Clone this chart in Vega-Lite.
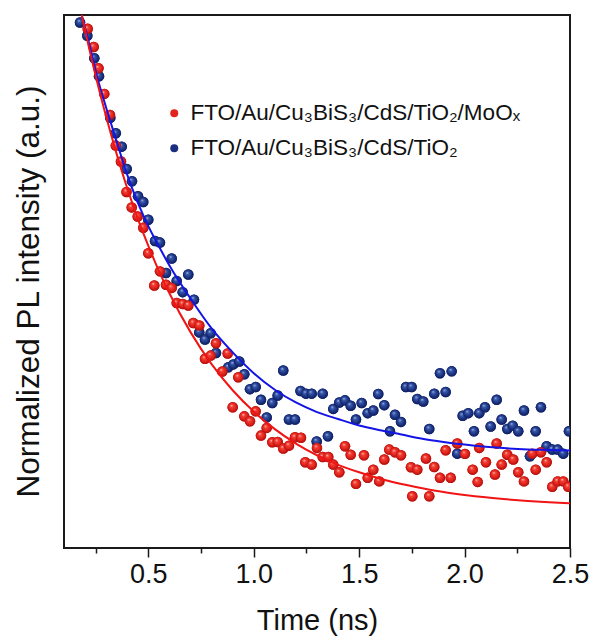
{
  "$schema": "https://vega.github.io/schema/vega-lite/v6.json",
  "width": 506,
  "height": 533,
  "autosize": {"type": "none"},
  "padding": {"left": 64, "top": 15, "right": 25, "bottom": 91},
  "background": "white",
  "config": {"view": {"stroke": "#1a1a1a", "strokeWidth": 2}, "font": "Liberation Sans"},
  "datasets": {
    "pts": [
      {"t":0.176,"I":0.986,"s":"FTO/Au/Cu₃BiS₃/CdS/TiO₂"},
      {"t":0.2105,"I":0.961,"s":"FTO/Au/Cu₃BiS₃/CdS/TiO₂"},
      {"t":0.2437,"I":0.919,"s":"FTO/Au/Cu₃BiS₃/CdS/TiO₂"},
      {"t":0.266,"I":0.885,"s":"FTO/Au/Cu₃BiS₃/CdS/TiO₂"},
      {"t":0.3196,"I":0.807,"s":"FTO/Au/Cu₃BiS₃/CdS/TiO₂"},
      {"t":0.3457,"I":0.778,"s":"FTO/Au/Cu₃BiS₃/CdS/TiO₂"},
      {"t":0.3737,"I":0.753,"s":"FTO/Au/Cu₃BiS₃/CdS/TiO₂"},
      {"t":0.3974,"I":0.711,"s":"FTO/Au/Cu₃BiS₃/CdS/TiO₂"},
      {"t":0.4225,"I":0.688,"s":"FTO/Au/Cu₃BiS₃/CdS/TiO₂"},
      {"t":0.451,"I":0.660,"s":"FTO/Au/Cu₃BiS₃/CdS/TiO₂"},
      {"t":0.476,"I":0.649,"s":"FTO/Au/Cu₃BiS₃/CdS/TiO₂"},
      {"t":0.4998,"I":0.616,"s":"FTO/Au/Cu₃BiS₃/CdS/TiO₂"},
      {"t":0.5316,"I":0.576,"s":"FTO/Au/Cu₃BiS₃/CdS/TiO₂"},
      {"t":0.5553,"I":0.573,"s":"FTO/Au/Cu₃BiS₃/CdS/TiO₂"},
      {"t":0.5838,"I":0.516,"s":"FTO/Au/Cu₃BiS₃/CdS/TiO₂"},
      {"t":0.6108,"I":0.543,"s":"FTO/Au/Cu₃BiS₃/CdS/TiO₂"},
      {"t":0.6345,"I":0.501,"s":"FTO/Au/Cu₃BiS₃/CdS/TiO₂"},
      {"t":0.663,"I":0.480,"s":"FTO/Au/Cu₃BiS₃/CdS/TiO₂"},
      {"t":0.6895,"I":0.513,"s":"FTO/Au/Cu₃BiS₃/CdS/TiO₂"},
      {"t":0.7166,"I":0.466,"s":"FTO/Au/Cu₃BiS₃/CdS/TiO₂"},
      {"t":0.7417,"I":0.4045,"s":"FTO/Au/Cu₃BiS₃/CdS/TiO₂"},
      {"t":0.7687,"I":0.391,"s":"FTO/Au/Cu₃BiS₃/CdS/TiO₂"},
      {"t":0.7958,"I":0.403,"s":"FTO/Au/Cu₃BiS₃/CdS/TiO₂"},
      {"t":0.8209,"I":0.366,"s":"FTO/Au/Cu₃BiS₃/CdS/TiO₂"},
      {"t":0.8792,"I":0.339,"s":"FTO/Au/Cu₃BiS₃/CdS/TiO₂"},
      {"t":0.903,"I":0.3445,"s":"FTO/Au/Cu₃BiS₃/CdS/TiO₂"},
      {"t":0.9314,"I":0.350,"s":"FTO/Au/Cu₃BiS₃/CdS/TiO₂"},
      {"t":0.9551,"I":0.326,"s":"FTO/Au/Cu₃BiS₃/CdS/TiO₂"},
      {"t":0.9821,"I":0.298,"s":"FTO/Au/Cu₃BiS₃/CdS/TiO₂"},
      {"t":1.0092,"I":0.302,"s":"FTO/Au/Cu₃BiS₃/CdS/TiO₂"},
      {"t":1.0343,"I":0.278,"s":"FTO/Au/Cu₃BiS₃/CdS/TiO₂"},
      {"t":1.0613,"I":0.245,"s":"FTO/Au/Cu₃BiS₃/CdS/TiO₂"},
      {"t":1.0879,"I":0.272,"s":"FTO/Au/Cu₃BiS₃/CdS/TiO₂"},
      {"t":1.1135,"I":0.286,"s":"FTO/Au/Cu₃BiS₃/CdS/TiO₂"},
      {"t":1.14,"I":0.333,"s":"FTO/Au/Cu₃BiS₃/CdS/TiO₂"},
      {"t":1.1671,"I":0.241,"s":"FTO/Au/Cu₃BiS₃/CdS/TiO₂"},
      {"t":1.1956,"I":0.241,"s":"FTO/Au/Cu₃BiS₃/CdS/TiO₂"},
      {"t":1.2216,"I":0.2947,"s":"FTO/Au/Cu₃BiS₃/CdS/TiO₂"},
      {"t":1.2477,"I":0.2896,"s":"FTO/Au/Cu₃BiS₃/CdS/TiO₂"},
      {"t":1.2748,"I":0.2896,"s":"FTO/Au/Cu₃BiS₃/CdS/TiO₂"},
      {"t":1.2985,"I":0.200,"s":"FTO/Au/Cu₃BiS₃/CdS/TiO₂"},
      {"t":1.327,"I":0.2896,"s":"FTO/Au/Cu₃BiS₃/CdS/TiO₂"},
      {"t":1.352,"I":0.2096,"s":"FTO/Au/Cu₃BiS₃/CdS/TiO₂"},
      {"t":1.3772,"I":0.261,"s":"FTO/Au/Cu₃BiS₃/CdS/TiO₂"},
      {"t":1.4057,"I":0.273,"s":"FTO/Au/Cu₃BiS₃/CdS/TiO₂"},
      {"t":1.4327,"I":0.277,"s":"FTO/Au/Cu₃BiS₃/CdS/TiO₂"},
      {"t":1.4597,"I":0.267,"s":"FTO/Au/Cu₃BiS₃/CdS/TiO₂"},
      {"t":1.4849,"I":0.241,"s":"FTO/Au/Cu₃BiS₃/CdS/TiO₂"},
      {"t":1.5119,"I":0.272,"s":"FTO/Au/Cu₃BiS₃/CdS/TiO₂"},
      {"t":1.5404,"I":0.253,"s":"FTO/Au/Cu₃BiS₃/CdS/TiO₂"},
      {"t":1.5669,"I":0.258,"s":"FTO/Au/Cu₃BiS₃/CdS/TiO₂"},
      {"t":1.5906,"I":0.289,"s":"FTO/Au/Cu₃BiS₃/CdS/TiO₂"},
      {"t":1.6191,"I":0.268,"s":"FTO/Au/Cu₃BiS₃/CdS/TiO₂"},
      {"t":1.6461,"I":0.219,"s":"FTO/Au/Cu₃BiS₃/CdS/TiO₂"},
      {"t":1.6698,"I":0.250,"s":"FTO/Au/Cu₃BiS₃/CdS/TiO₂"},
      {"t":1.6983,"I":0.2366,"s":"FTO/Au/Cu₃BiS₃/CdS/TiO₂"},
      {"t":1.722,"I":0.302,"s":"FTO/Au/Cu₃BiS₃/CdS/TiO₂"},
      {"t":1.749,"I":0.302,"s":"FTO/Au/Cu₃BiS₃/CdS/TiO₂"},
      {"t":1.7756,"I":0.2797,"s":"FTO/Au/Cu₃BiS₃/CdS/TiO₂"},
      {"t":1.804,"I":0.275,"s":"FTO/Au/Cu₃BiS₃/CdS/TiO₂"},
      {"t":1.8325,"I":0.2234,"s":"FTO/Au/Cu₃BiS₃/CdS/TiO₂"},
      {"t":1.8562,"I":0.2896,"s":"FTO/Au/Cu₃BiS₃/CdS/TiO₂"},
      {"t":1.8833,"I":0.328,"s":"FTO/Au/Cu₃BiS₃/CdS/TiO₂"},
      {"t":1.9103,"I":0.2928,"s":"FTO/Au/Cu₃BiS₃/CdS/TiO₂"},
      {"t":1.9388,"I":0.3314,"s":"FTO/Au/Cu₃BiS₃/CdS/TiO₂"},
      {"t":1.9653,"I":0.177,"s":"FTO/Au/Cu₃BiS₃/CdS/TiO₂"},
      {"t":1.9909,"I":0.248,"s":"FTO/Au/Cu₃BiS₃/CdS/TiO₂"},
      {"t":2.0175,"I":0.253,"s":"FTO/Au/Cu₃BiS₃/CdS/TiO₂"},
      {"t":2.0445,"I":0.219,"s":"FTO/Au/Cu₃BiS₃/CdS/TiO₂"},
      {"t":2.0696,"I":0.253,"s":"FTO/Au/Cu₃BiS₃/CdS/TiO₂"},
      {"t":2.0967,"I":0.264,"s":"FTO/Au/Cu₃BiS₃/CdS/TiO₂"},
      {"t":2.1237,"I":0.228,"s":"FTO/Au/Cu₃BiS₃/CdS/TiO₂"},
      {"t":2.1522,"I":0.278,"s":"FTO/Au/Cu₃BiS₃/CdS/TiO₂"},
      {"t":2.1759,"I":0.241,"s":"FTO/Au/Cu₃BiS₃/CdS/TiO₂"},
      {"t":2.2025,"I":0.2234,"s":"FTO/Au/Cu₃BiS₃/CdS/TiO₂"},
      {"t":2.2281,"I":0.2296,"s":"FTO/Au/Cu₃BiS₃/CdS/TiO₂"},
      {"t":2.2546,"I":0.219,"s":"FTO/Au/Cu₃BiS₃/CdS/TiO₂"},
      {"t":2.2817,"I":0.258,"s":"FTO/Au/Cu₃BiS₃/CdS/TiO₂"},
      {"t":2.3101,"I":0.172,"s":"FTO/Au/Cu₃BiS₃/CdS/TiO₂"},
      {"t":2.3372,"I":0.219,"s":"FTO/Au/Cu₃BiS₃/CdS/TiO₂"},
      {"t":2.3623,"I":0.264,"s":"FTO/Au/Cu₃BiS₃/CdS/TiO₂"},
      {"t":2.3893,"I":0.191,"s":"FTO/Au/Cu₃BiS₃/CdS/TiO₂"},
      {"t":2.4159,"I":0.1846,"s":"FTO/Au/Cu₃BiS₃/CdS/TiO₂"},
      {"t":2.4415,"I":0.1846,"s":"FTO/Au/Cu₃BiS₃/CdS/TiO₂"},
      {"t":2.4681,"I":0.177,"s":"FTO/Au/Cu₃BiS₃/CdS/TiO₂"},
      {"t":2.495,"I":0.219,"s":"FTO/Au/Cu₃BiS₃/CdS/TiO₂"},
      {"t":0.2124,"I":0.974,"s":"FTO/Au/Cu₃BiS₃/CdS/TiO₂/MoOₓ"},
      {"t":0.2409,"I":0.940,"s":"FTO/Au/Cu₃BiS₃/CdS/TiO₂/MoOₓ"},
      {"t":0.2636,"I":0.900,"s":"FTO/Au/Cu₃BiS₃/CdS/TiO₂/MoOₓ"},
      {"t":0.2911,"I":0.852,"s":"FTO/Au/Cu₃BiS₃/CdS/TiO₂/MoOₓ"},
      {"t":0.3182,"I":0.8126,"s":"FTO/Au/Cu₃BiS₃/CdS/TiO₂/MoOₓ"},
      {"t":0.3457,"I":0.755,"s":"FTO/Au/Cu₃BiS₃/CdS/TiO₂/MoOₓ"},
      {"t":0.3703,"I":0.725,"s":"FTO/Au/Cu₃BiS₃/CdS/TiO₂/MoOₓ"},
      {"t":0.3964,"I":0.668,"s":"FTO/Au/Cu₃BiS₃/CdS/TiO₂/MoOₓ"},
      {"t":0.4211,"I":0.639,"s":"FTO/Au/Cu₃BiS₃/CdS/TiO₂/MoOₓ"},
      {"t":0.4495,"I":0.622,"s":"FTO/Au/Cu₃BiS₃/CdS/TiO₂/MoOₓ"},
      {"t":0.4761,"I":0.601,"s":"FTO/Au/Cu₃BiS₃/CdS/TiO₂/MoOₓ"},
      {"t":0.4998,"I":0.553,"s":"FTO/Au/Cu₃BiS₃/CdS/TiO₂/MoOₓ"},
      {"t":0.5283,"I":0.4926,"s":"FTO/Au/Cu₃BiS₃/CdS/TiO₂/MoOₓ"},
      {"t":0.5553,"I":0.519,"s":"FTO/Au/Cu₃BiS₃/CdS/TiO₂/MoOₓ"},
      {"t":0.5838,"I":0.494,"s":"FTO/Au/Cu₃BiS₃/CdS/TiO₂/MoOₓ"},
      {"t":0.6108,"I":0.488,"s":"FTO/Au/Cu₃BiS₃/CdS/TiO₂/MoOₓ"},
      {"t":0.6345,"I":0.4596,"s":"FTO/Au/Cu₃BiS₃/CdS/TiO₂/MoOₓ"},
      {"t":0.663,"I":0.4577,"s":"FTO/Au/Cu₃BiS₃/CdS/TiO₂/MoOₓ"},
      {"t":0.6895,"I":0.455,"s":"FTO/Au/Cu₃BiS₃/CdS/TiO₂/MoOₓ"},
      {"t":0.7132,"I":0.422,"s":"FTO/Au/Cu₃BiS₃/CdS/TiO₂/MoOₓ"},
      {"t":0.7417,"I":0.4176,"s":"FTO/Au/Cu₃BiS₃/CdS/TiO₂/MoOₓ"},
      {"t":0.7687,"I":0.355,"s":"FTO/Au/Cu₃BiS₃/CdS/TiO₂/MoOₓ"},
      {"t":0.7958,"I":0.361,"s":"FTO/Au/Cu₃BiS₃/CdS/TiO₂/MoOₓ"},
      {"t":0.8209,"I":0.384,"s":"FTO/Au/Cu₃BiS₃/CdS/TiO₂/MoOₓ"},
      {"t":0.8508,"I":0.331,"s":"FTO/Au/Cu₃BiS₃/CdS/TiO₂/MoOₓ"},
      {"t":0.8764,"I":0.365,"s":"FTO/Au/Cu₃BiS₃/CdS/TiO₂/MoOₓ"},
      {"t":0.9001,"I":0.264,"s":"FTO/Au/Cu₃BiS₃/CdS/TiO₂/MoOₓ"},
      {"t":0.9267,"I":0.3205,"s":"FTO/Au/Cu₃BiS₃/CdS/TiO₂/MoOₓ"},
      {"t":0.9551,"I":0.247,"s":"FTO/Au/Cu₃BiS₃/CdS/TiO₂/MoOₓ"},
      {"t":0.9821,"I":0.2377,"s":"FTO/Au/Cu₃BiS₃/CdS/TiO₂/MoOₓ"},
      {"t":1.0092,"I":0.2564,"s":"FTO/Au/Cu₃BiS₃/CdS/TiO₂/MoOₓ"},
      {"t":1.0343,"I":0.2109,"s":"FTO/Au/Cu₃BiS₃/CdS/TiO₂/MoOₓ"},
      {"t":1.0613,"I":0.2253,"s":"FTO/Au/Cu₃BiS₃/CdS/TiO₂/MoOₓ"},
      {"t":1.0879,"I":0.1983,"s":"FTO/Au/Cu₃BiS₃/CdS/TiO₂/MoOₓ"},
      {"t":1.1135,"I":0.199,"s":"FTO/Au/Cu₃BiS₃/CdS/TiO₂/MoOₓ"},
      {"t":1.14,"I":0.1865,"s":"FTO/Au/Cu₃BiS₃/CdS/TiO₂/MoOₓ"},
      {"t":1.1671,"I":0.192,"s":"FTO/Au/Cu₃BiS₃/CdS/TiO₂/MoOₓ"},
      {"t":1.1956,"I":0.2077,"s":"FTO/Au/Cu₃BiS₃/CdS/TiO₂/MoOₓ"},
      {"t":1.2241,"I":0.207,"s":"FTO/Au/Cu₃BiS₃/CdS/TiO₂/MoOₓ"},
      {"t":1.2444,"I":0.161,"s":"FTO/Au/Cu₃BiS₃/CdS/TiO₂/MoOₓ"},
      {"t":1.2748,"I":0.1565,"s":"FTO/Au/Cu₃BiS₃/CdS/TiO₂/MoOₓ"},
      {"t":1.2999,"I":0.1878,"s":"FTO/Au/Cu₃BiS₃/CdS/TiO₂/MoOₓ"},
      {"t":1.327,"I":0.1706,"s":"FTO/Au/Cu₃BiS₃/CdS/TiO₂/MoOₓ"},
      {"t":1.3535,"I":0.1706,"s":"FTO/Au/Cu₃BiS₃/CdS/TiO₂/MoOₓ"},
      {"t":1.3772,"I":0.1565,"s":"FTO/Au/Cu₃BiS₃/CdS/TiO₂/MoOₓ"},
      {"t":1.4057,"I":0.142,"s":"FTO/Au/Cu₃BiS₃/CdS/TiO₂/MoOₓ"},
      {"t":1.4327,"I":0.191,"s":"FTO/Au/Cu₃BiS₃/CdS/TiO₂/MoOₓ"},
      {"t":1.4597,"I":0.175,"s":"FTO/Au/Cu₃BiS₃/CdS/TiO₂/MoOₓ"},
      {"t":1.4849,"I":0.1203,"s":"FTO/Au/Cu₃BiS₃/CdS/TiO₂/MoOₓ"},
      {"t":1.5228,"I":0.174,"s":"FTO/Au/Cu₃BiS₃/CdS/TiO₂/MoOₓ"},
      {"t":1.5404,"I":0.1316,"s":"FTO/Au/Cu₃BiS₃/CdS/TiO₂/MoOₓ"},
      {"t":1.5669,"I":0.147,"s":"FTO/Au/Cu₃BiS₃/CdS/TiO₂/MoOₓ"},
      {"t":1.5954,"I":0.125,"s":"FTO/Au/Cu₃BiS₃/CdS/TiO₂/MoOₓ"},
      {"t":1.6191,"I":0.166,"s":"FTO/Au/Cu₃BiS₃/CdS/TiO₂/MoOₓ"},
      {"t":1.6428,"I":0.1846,"s":"FTO/Au/Cu₃BiS₃/CdS/TiO₂/MoOₓ"},
      {"t":1.6698,"I":0.1796,"s":"FTO/Au/Cu₃BiS₃/CdS/TiO₂/MoOₓ"},
      {"t":1.6983,"I":0.174,"s":"FTO/Au/Cu₃BiS₃/CdS/TiO₂/MoOₓ"},
      {"t":1.7457,"I":0.1515,"s":"FTO/Au/Cu₃BiS₃/CdS/TiO₂/MoOₓ"},
      {"t":1.7519,"I":0.097,"s":"FTO/Au/Cu₃BiS₃/CdS/TiO₂/MoOₓ"},
      {"t":1.7756,"I":0.147,"s":"FTO/Au/Cu₃BiS₃/CdS/TiO₂/MoOₓ"},
      {"t":1.8169,"I":0.1678,"s":"FTO/Au/Cu₃BiS₃/CdS/TiO₂/MoOₓ"},
      {"t":1.8325,"I":0.097,"s":"FTO/Au/Cu₃BiS₃/CdS/TiO₂/MoOₓ"},
      {"t":1.8562,"I":0.152,"s":"FTO/Au/Cu₃BiS₃/CdS/TiO₂/MoOₓ"},
      {"t":1.8833,"I":0.1316,"s":"FTO/Au/Cu₃BiS₃/CdS/TiO₂/MoOₓ"},
      {"t":1.9103,"I":0.1833,"s":"FTO/Au/Cu₃BiS₃/CdS/TiO₂/MoOₓ"},
      {"t":1.934,"I":0.1316,"s":"FTO/Au/Cu₃BiS₃/CdS/TiO₂/MoOₓ"},
      {"t":1.9653,"I":0.196,"s":"FTO/Au/Cu₃BiS₃/CdS/TiO₂/MoOₓ"},
      {"t":2.0018,"I":0.1766,"s":"FTO/Au/Cu₃BiS₃/CdS/TiO₂/MoOₓ"},
      {"t":2.0383,"I":0.147,"s":"FTO/Au/Cu₃BiS₃/CdS/TiO₂/MoOₓ"},
      {"t":2.062,"I":0.124,"s":"FTO/Au/Cu₃BiS₃/CdS/TiO₂/MoOₓ"},
      {"t":2.0696,"I":0.1878,"s":"FTO/Au/Cu₃BiS₃/CdS/TiO₂/MoOₓ"},
      {"t":2.1014,"I":0.161,"s":"FTO/Au/Cu₃BiS₃/CdS/TiO₂/MoOₓ"},
      {"t":2.1441,"I":0.1378,"s":"FTO/Au/Cu₃BiS₃/CdS/TiO₂/MoOₓ"},
      {"t":2.1522,"I":0.196,"s":"FTO/Au/Cu₃BiS₃/CdS/TiO₂/MoOₓ"},
      {"t":2.1759,"I":0.1565,"s":"FTO/Au/Cu₃BiS₃/CdS/TiO₂/MoOₓ"},
      {"t":2.2025,"I":0.175,"s":"FTO/Au/Cu₃BiS₃/CdS/TiO₂/MoOₓ"},
      {"t":2.2309,"I":0.166,"s":"FTO/Au/Cu₃BiS₃/CdS/TiO₂/MoOₓ"},
      {"t":2.2546,"I":0.142,"s":"FTO/Au/Cu₃BiS₃/CdS/TiO₂/MoOₓ"},
      {"t":2.2817,"I":0.125,"s":"FTO/Au/Cu₃BiS₃/CdS/TiO₂/MoOₓ"},
      {"t":2.3211,"I":0.177,"s":"FTO/Au/Cu₃BiS₃/CdS/TiO₂/MoOₓ"},
      {"t":2.3372,"I":0.147,"s":"FTO/Au/Cu₃BiS₃/CdS/TiO₂/MoOₓ"},
      {"t":2.3623,"I":0.1796,"s":"FTO/Au/Cu₃BiS₃/CdS/TiO₂/MoOₓ"},
      {"t":2.3893,"I":0.161,"s":"FTO/Au/Cu₃BiS₃/CdS/TiO₂/MoOₓ"},
      {"t":2.4159,"I":0.1147,"s":"FTO/Au/Cu₃BiS₃/CdS/TiO₂/MoOₓ"},
      {"t":2.4415,"I":0.125,"s":"FTO/Au/Cu₃BiS₃/CdS/TiO₂/MoOₓ"},
      {"t":2.4681,"I":0.125,"s":"FTO/Au/Cu₃BiS₃/CdS/TiO₂/MoOₓ"},
      {"t":2.4918,"I":0.1147,"s":"FTO/Au/Cu₃BiS₃/CdS/TiO₂/MoOₓ"}
    ],
    "fit": [
      {"t":0.184,"I":1.0,"s":"B"},{"t":0.22,"I":0.945,"s":"B"},{"t":0.26,"I":0.88,"s":"B"},{"t":0.30,"I":0.826,"s":"B"},{"t":0.35,"I":0.762,"s":"B"},{"t":0.40,"I":0.70,"s":"B"},{"t":0.45,"I":0.648,"s":"B"},{"t":0.50,"I":0.604,"s":"B"},{"t":0.55,"I":0.566,"s":"B"},{"t":0.60,"I":0.530,"s":"B"},{"t":0.70,"I":0.468,"s":"B"},{"t":0.80,"I":0.412,"s":"B"},{"t":0.90,"I":0.367,"s":"B"},{"t":1.00,"I":0.328,"s":"B"},{"t":1.10,"I":0.297,"s":"B"},{"t":1.20,"I":0.273,"s":"B"},{"t":1.30,"I":0.255,"s":"B"},{"t":1.40,"I":0.242,"s":"B"},{"t":1.50,"I":0.230,"s":"B"},{"t":1.60,"I":0.221,"s":"B"},{"t":1.70,"I":0.213,"s":"B"},{"t":1.80,"I":0.205,"s":"B"},{"t":1.90,"I":0.199,"s":"B"},{"t":2.00,"I":0.194,"s":"B"},{"t":2.10,"I":0.190,"s":"B"},{"t":2.20,"I":0.187,"s":"B"},{"t":2.30,"I":0.185,"s":"B"},{"t":2.40,"I":0.184,"s":"B"},{"t":2.50,"I":0.183,"s":"B"},
      {"t":0.184,"I":1.0,"s":"R"},{"t":0.22,"I":0.936,"s":"R"},{"t":0.26,"I":0.870,"s":"R"},{"t":0.30,"I":0.809,"s":"R"},{"t":0.35,"I":0.739,"s":"R"},{"t":0.40,"I":0.675,"s":"R"},{"t":0.45,"I":0.618,"s":"R"},{"t":0.50,"I":0.567,"s":"R"},{"t":0.55,"I":0.520,"s":"R"},{"t":0.60,"I":0.478,"s":"R"},{"t":0.70,"I":0.405,"s":"R"},{"t":0.80,"I":0.345,"s":"R"},{"t":0.90,"I":0.296,"s":"R"},{"t":1.00,"I":0.256,"s":"R"},{"t":1.10,"I":0.223,"s":"R"},{"t":1.20,"I":0.196,"s":"R"},{"t":1.30,"I":0.174,"s":"R"},{"t":1.40,"I":0.156,"s":"R"},{"t":1.50,"I":0.142,"s":"R"},{"t":1.60,"I":0.130,"s":"R"},{"t":1.70,"I":0.120,"s":"R"},{"t":1.80,"I":0.112,"s":"R"},{"t":1.90,"I":0.105,"s":"R"},{"t":2.00,"I":0.0995,"s":"R"},{"t":2.10,"I":0.095,"s":"R"},{"t":2.20,"I":0.0914,"s":"R"},{"t":2.30,"I":0.0884,"s":"R"},{"t":2.40,"I":0.086,"s":"R"},{"t":2.50,"I":0.084,"s":"R"}
    ]
  },
  "layer": [
    {
      "data": {"name": "pts"},
      "mark": {"type": "point", "filled": true, "size": 110, "opacity": 1, "clip": true},
      "encoding": {
        "x": {"field": "t", "type": "quantitative",
          "scale": {"domain": [0.1, 2.5], "nice": false, "zero": false},
          "axis": {
            "values": [0.25, 0.5, 0.75, 1, 1.25, 1.5, 1.75, 2, 2.25, 2.5],
            "labelExpr": "(datum.value*4) % 2 === 0 ? format(datum.value, '.1f') : ''",
            "domain": false, "grid": false,
            "tickColor": "#1a1a1a", "tickWidth": 1.5,
            "tickSize": {"condition": {"test": "(datum.value*4) % 2 !== 0", "value": 5}, "value": 9},
            "labelFontSize": 27, "labelColor": "#111", "labelFont": "Liberation Sans",
            "labelPadding": 4, "labelFlush": false, "labelOverlap": false, "labelBound": false,
            "title": "Time (ns)", "titleFontSize": 29, "titleFontWeight": "normal",
            "titleColor": "#111", "titleFont": "Liberation Sans", "titlePadding": 19
          }
        },
        "y": {"field": "I", "type": "quantitative",
          "scale": {"domain": [0, 1], "nice": false, "zero": false},
          "axis": {
            "title": "Normalized PL intensity (a.u.)",
            "labels": false, "ticks": false, "domain": false, "grid": false,
            "titleFontSize": 31.5, "titleFontWeight": "normal", "titleColor": "#111",
            "titleFont": "Liberation Sans",
            "titleX": -35, "titleY": 276, "titleAngle": -90,
            "titleAlign": "center", "titleBaseline": "middle"
          }
        },
        "color": {"field": "s", "type": "nominal",
          "scale": {"domain": ["FTO/Au/Cu₃BiS₃/CdS/TiO₂/MoOₓ", "FTO/Au/Cu₃BiS₃/CdS/TiO₂"], "range": ["#e3231d", "#1a2f80"]},
          "legend": {
            "orient": "none", "legendX": 99, "legendY": 87, "title": null,
            "labelFontSize": 22.5, "labelFont": "Liberation Sans", "labelColor": "#111",
            "symbolSize": 64, "symbolType": "circle", "rowPadding": 12, "labelOffset": 5,
            "padding": 0, "labelLimit": 500
          }
        }
      }
    },
    {
      "data": {"name": "pts"},
      "transform": [{"filter": {"field": "s", "equal": "FTO/Au/Cu₃BiS₃/CdS/TiO₂"}}],
      "mark": {"type": "point", "filled": true, "size": 110, "opacity": 1, "clip": true,
        "fill": {"gradient": "radial", "x1": 0.38, "y1": 0.32, "r1": 0, "x2": 0.5, "y2": 0.5, "r2": 0.55,
          "stops": [{"offset": 0, "color": "#b6c4ee"}, {"offset": 0.25, "color": "#3a5aaa"}, {"offset": 0.65, "color": "#1b3282"}, {"offset": 1, "color": "#0c1850"}]}},
      "encoding": {"x": {"field": "t", "type": "quantitative"}, "y": {"field": "I", "type": "quantitative"}}
    },
    {
      "data": {"name": "pts"},
      "transform": [{"filter": {"field": "s", "equal": "FTO/Au/Cu₃BiS₃/CdS/TiO₂/MoOₓ"}}],
      "mark": {"type": "point", "filled": true, "size": 110, "opacity": 1, "clip": true,
        "fill": {"gradient": "radial", "x1": 0.38, "y1": 0.32, "r1": 0, "x2": 0.5, "y2": 0.5, "r2": 0.55,
          "stops": [{"offset": 0, "color": "#ffd0c8"}, {"offset": 0.25, "color": "#f24236"}, {"offset": 0.65, "color": "#df201a"}, {"offset": 1, "color": "#9a0c0a"}]}},
      "encoding": {"x": {"field": "t", "type": "quantitative"}, "y": {"field": "I", "type": "quantitative"}}
    },
    {
      "data": {"name": "fit"},
      "transform": [{"filter": {"field": "s", "equal": "B"}}],
      "mark": {"type": "line", "color": "#1414e6", "strokeWidth": 2, "clip": true, "interpolate": "monotone"},
      "encoding": {"x": {"field": "t", "type": "quantitative"}, "y": {"field": "I", "type": "quantitative"}}
    },
    {
      "data": {"name": "fit"},
      "transform": [{"filter": {"field": "s", "equal": "R"}}],
      "mark": {"type": "line", "color": "#f01414", "strokeWidth": 2, "clip": true, "interpolate": "monotone"},
      "encoding": {"x": {"field": "t", "type": "quantitative"}, "y": {"field": "I", "type": "quantitative"}}
    }
  ]
}
